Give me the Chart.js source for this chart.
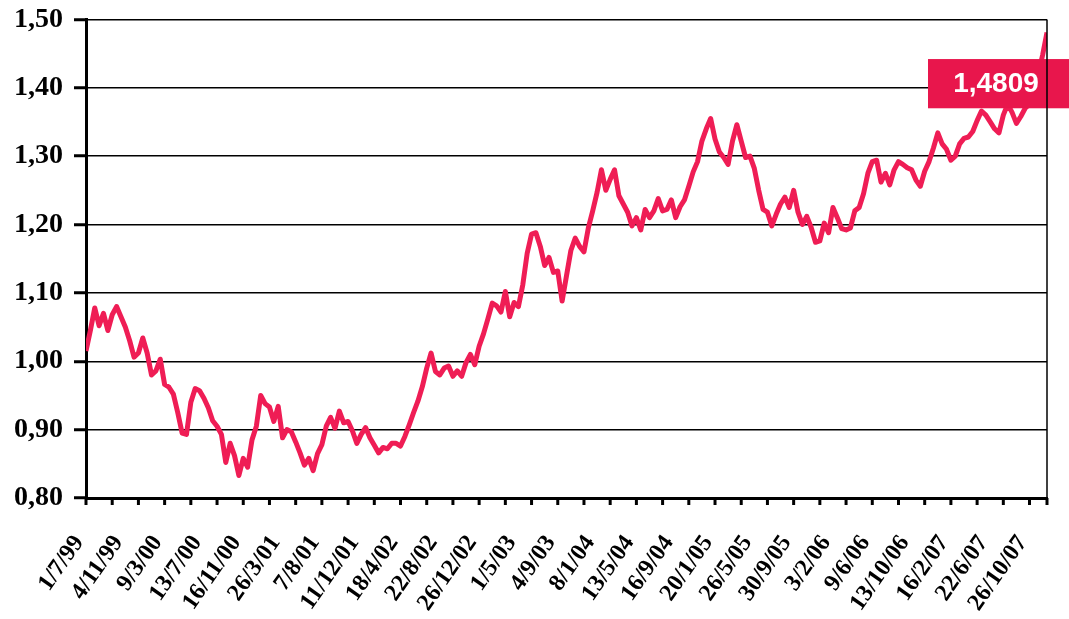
<!DOCTYPE html>
<html>
<head>
<meta charset="utf-8">
<script src="https://cdn.jsdelivr.net/npm/chart.js@4"></script>
<style>
    body { margin: 0; background: #fff; }
    #wrap { width: 1069px; height: 619px; }
</style>
</head>
<body>
<div id="wrap"><canvas id="rateChart" width="1069" height="619"></canvas></div>
<script>
// tick labels shown on the date axis, one every 9 points
const tickLabels = ['1/7/99', '4/11/99', '9/3/00', '13/7/00', '16/11/00', '26/3/01', '7/8/01',
    '11/12/01', '18/4/02', '22/8/02', '26/12/02', '1/5/03', '4/9/03', '8/1/04', '13/5/04',
    '16/9/04', '20/1/05', '26/5/05', '30/9/05', '3/2/06', '9/6/06', '13/10/06', '16/2/07',
    '22/6/07', '26/10/07'];

// euro / dollar rate
const eurUsd = [
    1.015, 1.045, 1.078, 1.052, 1.070, 1.045, 1.068, 1.080, 1.065, 1.050,
    1.030, 1.006, 1.012, 1.034, 1.012, 0.980, 0.986, 1.003, 0.966, 0.962,
    0.952, 0.925, 0.895, 0.893, 0.940, 0.960, 0.957, 0.946, 0.932, 0.913,
    0.905, 0.893, 0.852, 0.880, 0.862, 0.833, 0.858, 0.845, 0.885, 0.905,
    0.950, 0.938, 0.933, 0.912, 0.934, 0.888, 0.900, 0.897, 0.882, 0.866,
    0.848, 0.858, 0.840, 0.865, 0.878, 0.905, 0.918, 0.902, 0.927, 0.910,
    0.912, 0.898, 0.880, 0.893, 0.903, 0.888, 0.877, 0.866, 0.874, 0.872,
    0.880, 0.880, 0.876, 0.890, 0.907, 0.925, 0.942, 0.963, 0.990, 1.012,
    0.985, 0.980, 0.990, 0.993, 0.978, 0.986, 0.978, 0.998, 1.010, 0.995,
    1.022, 1.040, 1.062, 1.085, 1.081, 1.072, 1.102, 1.065, 1.086, 1.080,
    1.112, 1.158, 1.186, 1.188, 1.168, 1.140, 1.152, 1.130, 1.132, 1.088,
    1.125, 1.162, 1.180, 1.168, 1.160, 1.195, 1.220, 1.247, 1.280, 1.250,
    1.266, 1.280, 1.242, 1.230, 1.218, 1.198, 1.210, 1.192, 1.222, 1.210,
    1.220, 1.238, 1.220, 1.222, 1.236, 1.210, 1.226, 1.236, 1.256, 1.277,
    1.292, 1.322, 1.340, 1.355, 1.325, 1.306, 1.298, 1.288, 1.322, 1.346,
    1.322, 1.298, 1.300, 1.282, 1.250, 1.222, 1.218, 1.198, 1.215, 1.230,
    1.240, 1.225, 1.250, 1.218, 1.200, 1.212, 1.196, 1.174, 1.176, 1.202,
    1.188, 1.225, 1.210, 1.194, 1.192, 1.195, 1.220, 1.225, 1.245, 1.275,
    1.292, 1.294, 1.262, 1.275, 1.258, 1.280, 1.292, 1.288, 1.283, 1.280,
    1.265, 1.256, 1.278, 1.292, 1.312, 1.334, 1.318, 1.310, 1.294, 1.300,
    1.318, 1.326, 1.328, 1.336, 1.352, 1.366, 1.360, 1.350, 1.340, 1.334,
    1.360, 1.376, 1.364, 1.348, 1.358, 1.370, 1.376, 1.395, 1.420, 1.448,
    1.4809
];

const labelEvery = 9;
const tickMarkEvery = 6;
const lineColor = '#ef1d55';
const boxColor = '#e8164c';

const points = eurUsd.map((v, i) => ({ x: i, y: v }));

function comma(v, d) {
    return v.toFixed(d).replace('.', ',');
}

// short tick marks under the date axis and the right border
const axisExtras = {
    id: 'axisExtras',
    afterDraw(chart) {
        const ctx = chart.ctx;
        const area = chart.chartArea;
        const xs = chart.scales.x;
        ctx.save();
        ctx.strokeStyle = '#000';
        ctx.lineWidth = 3;
        for (let i = 0; i <= eurUsd.length - 1; i += tickMarkEvery) {
            const px = xs.getPixelForValue(i);
            ctx.beginPath();
            ctx.moveTo(px, area.bottom);
            ctx.lineTo(px, area.bottom + 7);
            ctx.stroke();
        }
        ctx.beginPath();
        ctx.moveTo(area.right, area.bottom + 7);
        ctx.lineTo(area.right, area.bottom);
        ctx.stroke();
        ctx.lineWidth = 1.5;
        ctx.beginPath();
        ctx.moveTo(area.right, area.top);
        ctx.lineTo(area.right, area.bottom);
        ctx.stroke();
        ctx.restore();
    }
};

// red box with the last value
const lastValueBox = {
    id: 'lastValueBox',
    afterDatasetsDraw(chart) {
        const ctx = chart.ctx;
        const ys = chart.scales.y;
        const top = ys.getPixelForValue(1.442);
        const bottom = ys.getPixelForValue(1.370);
        const right = chart.width;
        const left = chart.chartArea.right - 119;
        ctx.save();
        ctx.fillStyle = boxColor;
        ctx.fillRect(left, top, right - left, bottom - top);
        ctx.fillStyle = '#fff';
        ctx.font = 'bold 28px "Liberation Sans", Arial, sans-serif';
        ctx.textAlign = 'center';
        ctx.textBaseline = 'middle';
        ctx.fillText(comma(eurUsd[eurUsd.length - 1], 4), left + 68, (top + bottom) / 2 + 1);
        ctx.restore();
    }
};

new Chart(document.getElementById('rateChart'), {
    type: 'line',
    data: {
        datasets: [{
            data: points,
            borderColor: lineColor,
            borderWidth: 5,
            borderJoinStyle: 'round',
            pointRadius: 0,
            tension: 0,
            fill: false
        }]
    },
    options: {
        responsive: false,
        animation: false,
        events: [],
        layout: { padding: { top: 0, right: 22, left: 0, bottom: 0 } },
        plugins: {
            legend: { display: false },
            tooltip: { enabled: false }
        },
        scales: {
            x: {
                type: 'linear',
                min: 0,
                max: eurUsd.length - 1,
                afterFit(scale) { scale.height = 121; },
                grid: { drawOnChartArea: false, drawTicks: true, tickLength: 32, tickColor: 'rgba(0,0,0,0)' },
                border: { display: true, color: '#000', width: 3 },
                ticks: {
                    stepSize: labelEvery,
                    includeBounds: false,
                    autoSkip: false,
                    minRotation: 55,
                    maxRotation: 55,
                    padding: 0,
                    labelOffset: -7,
                    color: '#000',
                    font: { family: '"Liberation Serif", "Times New Roman", serif', weight: 'bold', size: 24 },
                    callback: (value) => value % labelEvery === 0 ? tickLabels[value / labelEvery] : ''
                }
            },
            y: {
                min: 0.8,
                max: 1.5,
                afterFit(scale) { scale.width = 86; },
                grid: { color: '#000', lineWidth: 1.5, tickLength: 12, tickWidth: 3, tickColor: '#000' },
                border: { display: true, color: '#000', width: 3 },
                ticks: {
                    stepSize: 0.1,
                    padding: 11,
                    color: '#000',
                    font: { family: '"Liberation Serif", "Times New Roman", serif', weight: 'bold', size: 28, lineHeight: 0.6 },
                    callback: (value) => comma(value, 2)
                }
            }
        }
    },
    plugins: [axisExtras, lastValueBox]
});
</script>
</body>
</html>
